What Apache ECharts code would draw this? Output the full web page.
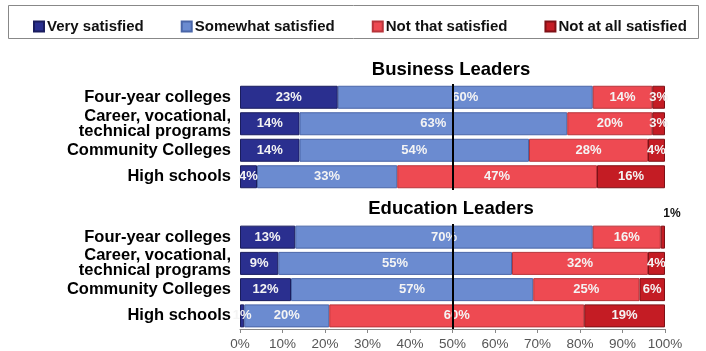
<!DOCTYPE html>
<html>
<head>
<meta charset="utf-8">
<script src="https://cdn.jsdelivr.net/npm/echarts@6/dist/echarts.min.js"></script>
<style>
  html, body { margin: 0; padding: 0; background: #fff; }
  #chart { width: 706px; height: 351px; }
</style>
</head>
<body>
<div id="chart"></div>
<script>
// Satisfaction with how institutions prepare graduates, by respondent group
const categories = ['Four-year colleges', 'Career, vocational,\ntechnical programs', 'Community Colleges', 'High schools'];
const seriesNames = ['Very satisfied', 'Somewhat satisfied', 'Not that satisfied', 'Not at all satisfied'];
const panelTitles = ['Business Leaders', 'Education Leaders'];
const tickLabels = ['0%', '10%', '20%', '30%', '40%', '50%', '60%', '70%', '80%', '90%', '100%'];

// Business leaders (percent)
const bizVery = [23, 14, 14, 4];
const bizSomewhat = [60, 63, 54, 33];
const bizNotThat = [14, 20, 28, 47];
const bizNotAtAll = [3, 3, 4, 16];

// Education leaders (percent)
const eduVery = [13, 9, 12, 1];
const eduSomewhat = [70, 55, 57, 20];
const eduNotThat = [16, 32, 25, 60];
const eduNotAtAll = [1, 4, 6, 19];

const colors = ['#2a2f8f', '#6b8bd0', '#ee4a52', '#c41c24'];
const edges = ['#1a1d5e', '#4a66a8', '#b8343a', '#7e1016'];
const FONT = '"Liberation Sans", Arial, sans-serif';

const chart = echarts.init(document.getElementById('chart'), null, { renderer: 'canvas' });

const grids = [
  { left: 240, right: 41, top: 84, height: 106 },
  { left: 240, right: 41, top: 224, height: 107 }
];

function makeSeries(name, idx, data, gridIdx, extra) {
  return Object.assign({
    name: name,
    type: 'bar',
    stack: 'g' + gridIdx,
    xAxisIndex: gridIdx,
    yAxisIndex: gridIdx,
    barWidth: 23,
    itemStyle: { color: colors[idx], borderColor: edges[idx], borderWidth: 1 },
    label: {
      show: true,
      position: 'inside',
      color: '#f4f4f4',
      fontFamily: FONT,
      fontWeight: 'bold',
      fontSize: 13,
      formatter: p => p.value + '%'
    },
    data: data
  }, extra || {});
}

const mid = {
  silent: true,
  symbol: 'none',
  label: { show: false },
  lineStyle: { color: '#000', width: 2, type: 'solid' },
  data: [{ xAxis: 50 }]
};

const series = [
  makeSeries(seriesNames[0], 0, bizVery, 0),
  makeSeries(seriesNames[1], 1, bizSomewhat, 0),
  makeSeries(seriesNames[2], 2, bizNotThat, 0),
  makeSeries(seriesNames[3], 3, bizNotAtAll, 0, { markLine: mid }),
  makeSeries(seriesNames[0], 0, eduVery, 1),
  makeSeries(seriesNames[1], 1, eduSomewhat, 1),
  makeSeries(seriesNames[2], 2, eduNotThat, 1),
  makeSeries(seriesNames[3], 3, eduNotAtAll.map((v, i) => i === 0 ? {
    value: v,
    label: { position: 'top', color: '#111', offset: [9, -1], fontSize: 12 }
  } : v), 1, { markLine: mid })
];

const titleStyle = { fontFamily: FONT, fontSize: 18.5, fontWeight: 'bold', color: '#000' };

chart.setOption({
  animation: false,
  textStyle: { fontFamily: FONT },
  title: [
    { text: panelTitles[0], left: 451, top: 60, textAlign: 'center', textStyle: titleStyle, padding: 0 },
    { text: panelTitles[1], left: 451, top: 199, textAlign: 'center', textStyle: titleStyle, padding: 0 }
  ],
  graphic: [{
    type: 'rect',
    left: 8, top: 5,
    shape: { width: 690, height: 33 },
    style: { fill: '#fff', stroke: '#888', lineWidth: 1 },
    z: -1
  }],
  legend: {
    left: 28, top: 14,
    itemWidth: 10, itemHeight: 10,
    itemGap: 37,
    icon: 'rect',
    textStyle: { fontFamily: FONT, fontSize: 15, fontWeight: 'bold', color: '#111', padding: [0, 0, 0, -2] },
    data: seriesNames
  },
  grid: grids,
  xAxis: [0, 1].map(g => ({
    type: 'value',
    gridIndex: g,
    min: 0, max: 100, interval: 10,
    show: g === 1,
    splitLine: { show: false },
    axisLine: { show: true, lineStyle: { color: '#888' } },
    axisTick: { show: true, length: 4, lineStyle: { color: '#888' } },
    axisLabel: {
      color: '#555', fontFamily: FONT, fontSize: 13.5, margin: 8,
      formatter: v => tickLabels[Math.round(v / 10)]
    }
  })),
  yAxis: [0, 1].map(g => ({
    type: 'category',
    gridIndex: g,
    inverse: true,
    data: categories,
    axisLine: { show: false },
    axisTick: { show: false },
    axisLabel: {
      margin: 9,
      color: '#000',
      fontFamily: FONT,
      fontSize: 16.5,
      fontWeight: 'bold',
      lineHeight: 15,
      align: 'right'
    }
  })),
  series: series
});
</script>
</body>
</html>
